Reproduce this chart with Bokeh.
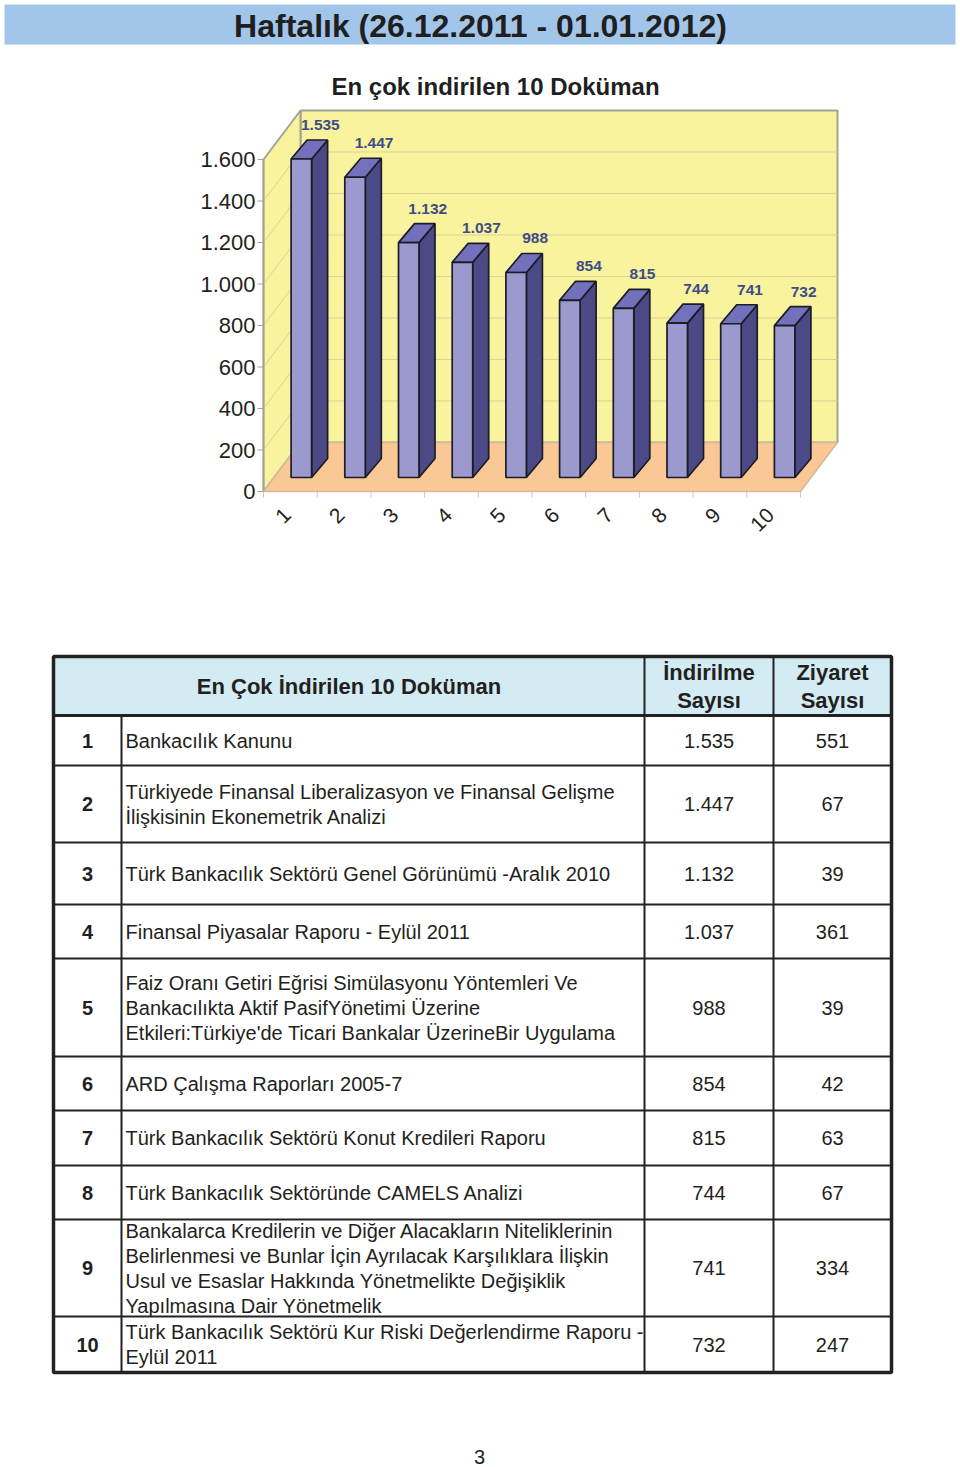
import math
from bokeh.plotting import figure
from bokeh.models import Range1d
from bokeh.layouts import column
from bokeh.embed import file_html
from bokeh.resources import INLINE
from bokeh.core.properties import value

# ---------------- data ----------------
page_title = "Haftalık (26.12.2011 - 01.01.2012)"
chart_title = "En çok indirilen 10 Doküman"
categories = ["1", "2", "3", "4", "5", "6", "7", "8", "9", "10"]
downloads = [1535, 1447, 1132, 1037, 988, 854, 815, 744, 741, 732]
visits = [551, 67, 39, 361, 39, 42, 63, 67, 334, 247]
y_ticks = [0, 200, 400, 600, 800, 1000, 1200, 1400, 1600]
table_title = "En Çok İndirilen 10 Doküman"
col_download_header = ["İndirilme", "Sayısı"]
col_visit_header = ["Ziyaret", "Sayısı"]
documents = [
    ["Bankacılık Kanunu"],
    ["Türkiyede Finansal Liberalizasyon ve Finansal Gelişme",
     "İlişkisinin Ekonemetrik Analizi"],
    ["Türk Bankacılık Sektörü Genel Görünümü -Aralık 2010"],
    ["Finansal Piyasalar Raporu - Eylül 2011"],
    ["Faiz Oranı Getiri Eğrisi Simülasyonu Yöntemleri Ve",
     "Bankacılıkta Aktif PasifYönetimi Üzerine",
     "Etkileri:Türkiye'de Ticari Bankalar ÜzerineBir Uygulama"],
    ["ARD Çalışma Raporları 2005-7"],
    ["Türk Bankacılık Sektörü Konut Kredileri Raporu"],
    ["Türk Bankacılık Sektöründe CAMELS Analizi"],
    ["Bankalarca Kredilerin ve Diğer Alacakların Niteliklerinin",
     "Belirlenmesi ve Bunlar İçin Ayrılacak Karşılıklara İlişkin",
     "Usul ve Esaslar Hakkında Yönetmelikte Değişiklik",
     "Yapılmasına Dair Yönetmelik"],
    ["Türk Bankacılık Sektörü Kur Riski Değerlendirme Raporu -",
     "Eylül 2011"],
]
page_number = "3"


def fmt(n):
    return f"{n:,}".replace(",", ".")


FONT = value("Liberation Sans")
TXT = "#231F20"

# ---------------- chart geometry (layout) ----------------
W = 960
CH = 620
X0_PX = 263.0      # front-left corner of the floor
CAT_PX = 53.7      # pixels per category
Y0_PX = 491.0      # value 0 on the front plane
VAL_PX = 0.2075    # pixels per unit value
WALL_DX_PX, WALL_DY_PX = 37.0, 49.0
BAR_OFF_DX_PX, BAR_OFF_DY_PX = 11.0, 14.0
BAR_W_PX = 20.5
BAR_D_DX_PX, BAR_D_DY_PX = 16.0, 19.0


def X(px):
    return 0.5 + (px - X0_PX) / CAT_PX


def Y(py):
    return (Y0_PX - py) / VAL_PX


def dx(px):
    return px / CAT_PX


def dy(px):
    return px / VAL_PX


p = figure(width=W, height=CH, output_backend="svg", toolbar_location=None,
           x_range=Range1d(X(0), X(W)), y_range=Range1d(Y(CH), Y(0)),
           x_axis_type=None, y_axis_type=None, min_border=0,
           outline_line_color=None, background_fill_color="white",
           border_fill_color="white")
p.grid.visible = False

# page title band
p.quad(left=[X(4)], right=[X(955)], top=[Y(4)], bottom=[Y(44)],
       fill_color="#A2C5EA", line_color=None)
p.text(x=[X(480)], y=[Y(25)], text=[page_title], text_font=FONT,
       text_font_size="32px", text_font_style="bold", text_color="#1F1F1F",
       text_align="center", text_baseline="middle")
p.text(x=[X(495)], y=[Y(86)], text=[chart_title], text_font=FONT,
       text_font_size="24px", text_font_style="bold", text_color="#1F1F1F",
       text_align="center", text_baseline="middle")

n = len(categories)
xl, xr = 0.5, n + 0.5
wdx, wdy = dx(WALL_DX_PX), dy(WALL_DY_PX)
ymax = y_ticks[-1]
WALL = "#F8F39C"
FLOOR = "#F9C895"
EDGE = "#A3A394"

# walls and floor
p.patch(x=[xl + wdx, xr + wdx, xr + wdx, xl + wdx], y=[wdy, wdy, ymax + wdy, ymax + wdy],
        fill_color=WALL, line_color=EDGE, line_width=2)
p.patch(x=[xl, xl + wdx, xl + wdx, xl], y=[0, wdy, ymax + wdy, ymax],
        fill_color=WALL, line_color=EDGE, line_width=2)
p.patch(x=[xl, xr, xr + wdx, xl + wdx], y=[0, 0, wdy, wdy],
        fill_color=FLOOR, line_color="#D8B99A", line_width=1.5)

# gridlines on walls
gt = y_ticks[1:-1]
p.segment(x0=[xl + wdx] * len(gt), y0=[t + wdy for t in gt],
          x1=[xr + wdx] * len(gt), y1=[t + wdy for t in gt],
          line_color="#D9D39A", line_width=1)
p.segment(x0=[xl] * len(gt), y0=gt, x1=[xl + wdx] * len(gt), y1=[t + wdy for t in gt],
          line_color="#D9D39A", line_width=1)

# value axis
p.segment(x0=[xl], y0=[0], x1=[xl], y1=[ymax], line_color=EDGE, line_width=1.5)
p.segment(x0=[xl - dx(6)] * len(y_ticks), y0=y_ticks, x1=[xl] * len(y_ticks), y1=y_ticks,
          line_color=EDGE, line_width=1)
p.text(x=[xl - dx(8)] * len(y_ticks), y=y_ticks, text=[fmt(t) for t in y_ticks],
       text_font=FONT, text_font_size="22px", text_color=TXT,
       text_align="right", text_baseline="middle")

# category axis
edges = [xl + k for k in range(n + 1)]
p.segment(x0=edges, y0=[0] * len(edges), x1=edges, y1=[-dy(6)] * len(edges),
          line_color="#C8C8C0", line_width=1)
p.text(x=[i + 1 - dx(3) for i in range(n)], y=[-dy(20)] * n, text=categories,
       text_font=FONT, text_font_size="21px", text_color=TXT,
       text_align="right", text_baseline="middle", angle=math.radians(45))

# 3D bars
box, boy = dx(BAR_OFF_DX_PX), dy(BAR_OFF_DY_PX)
bw = dx(BAR_W_PX)
bdx, bdy = dx(BAR_D_DX_PX), dy(BAR_D_DY_PX)
lefts = [i + 1 + box - bw / 2 for i in range(n)]
rights = [l + bw for l in lefts]
tops = [boy + v for v in downloads]
side_xs = [[r, r + bdx, r + bdx, r] for r in rights]
side_ys = [[boy, boy + bdy, t + bdy, t] for t in tops]
top_xs = [[l, r, r + bdx, l + bdx] for l, r in zip(lefts, rights)]
top_ys = [[t, t, t + bdy, t + bdy] for t in tops]
OUT = "#1C1C26"
p.patches(xs=side_xs, ys=side_ys, fill_color="#4C4A86", line_color=OUT, line_width=1.7)
p.patches(xs=top_xs, ys=top_ys, fill_color="#7370BC", line_color=OUT, line_width=1.7)
p.quad(left=lefts, right=rights, bottom=[boy] * n, top=tops,
       fill_color="#9B99CE", line_color=OUT, line_width=1.7)

# value labels
p.text(x=[i + 1 + box + dx(19) for i in range(n)], y=[t + bdy + dy(15) for t in tops],
       text=[fmt(v) for v in downloads], text_font=FONT, text_font_size="15.5px",
       text_font_style="bold", text_color="#3E4C8A",
       text_align="center", text_baseline="middle")

# ---------------- table ----------------
TH = 1467 - CH
t = figure(width=W, height=TH, output_backend="svg", toolbar_location=None,
           x_range=Range1d(0, W), y_range=Range1d(1467, CH),
           x_axis_type=None, y_axis_type=None, min_border=0,
           outline_line_color=None, background_fill_color="white",
           border_fill_color="white")
t.grid.visible = False

TX = [53, 121, 644, 773, 891]
TY = [656, 715, 765, 842, 904, 958, 1056, 1110, 1165, 1219, 1316, 1372]
LINE = "#222222"

t.quad(left=[TX[0]], right=[TX[-1]], top=[TY[0]], bottom=[TY[1]],
       fill_color="#D3EBF3", line_color=None)
inner = TY[2:-1]
t.segment(x0=[TX[0]] * len(inner), y0=inner, x1=[TX[-1]] * len(inner), y1=inner,
          line_color=LINE, line_width=2.2)
t.segment(x0=[TX[0]], y0=[TY[1]], x1=[TX[-1]], y1=[TY[1]], line_color=LINE, line_width=3)
t.segment(x0=[TX[1], TX[2], TX[3]], y0=[TY[1], TY[0], TY[0]],
          x1=[TX[1], TX[2], TX[3]], y1=[TY[-1]] * 3, line_color=LINE, line_width=2)
t.quad(left=[TX[0]], right=[TX[-1]], top=[TY[0]], bottom=[TY[-1]],
       fill_color=None, line_color=LINE, line_width=3.5)

# header
t.text(x=[(TX[0] + TX[2]) / 2], y=[(TY[0] + TY[1]) / 2], text=[table_title],
       text_font=FONT, text_font_size="22px", text_font_style="bold", text_color=TXT,
       text_align="center", text_baseline="middle")
hc = (TY[0] + TY[1]) / 2
for cx, lines in [((TX[2] + TX[3]) / 2, col_download_header), ((TX[3] + TX[4]) / 2, col_visit_header)]:
    t.text(x=[cx, cx], y=[hc - 13.5, hc + 14.5], text=lines, text_font=FONT,
           text_font_size="22px", text_font_style="bold", text_color=TXT,
           text_align="center", text_baseline="middle")

# rows
LH = 25
centers = [(TY[k + 1] + TY[k + 2]) / 2 for k in range(n)]
t.text(x=[(TX[0] + TX[1]) / 2] * n, y=centers, text=categories, text_font=FONT,
       text_font_size="20px", text_font_style="bold", text_color=TXT,
       text_align="center", text_baseline="middle")
dxs, dys, dts = [], [], []
for c, lines in zip(centers, documents):
    m = len(lines)
    for j, ln in enumerate(lines):
        dxs.append(TX[1] + 4)
        dys.append(c + (j - (m - 1) / 2) * LH)
        dts.append(ln)
t.text(x=dxs, y=dys, text=dts, text_font=FONT, text_font_size="20px", text_color=TXT,
       text_align="left", text_baseline="middle")
t.text(x=[(TX[2] + TX[3]) / 2] * n, y=centers, text=[fmt(v) for v in downloads],
       text_font=FONT, text_font_size="20px", text_color=TXT,
       text_align="center", text_baseline="middle")
t.text(x=[(TX[3] + TX[4]) / 2] * n, y=centers, text=[fmt(v) for v in visits],
       text_font=FONT, text_font_size="20px", text_color=TXT,
       text_align="center", text_baseline="middle")

t.text(x=[479], y=[1456], text=[page_number], text_font=FONT, text_font_size="20px",
       text_color=TXT, text_align="center", text_baseline="middle")

layout = column(p, t, spacing=0)
open("out.html", "w").write(file_html(layout, INLINE))
